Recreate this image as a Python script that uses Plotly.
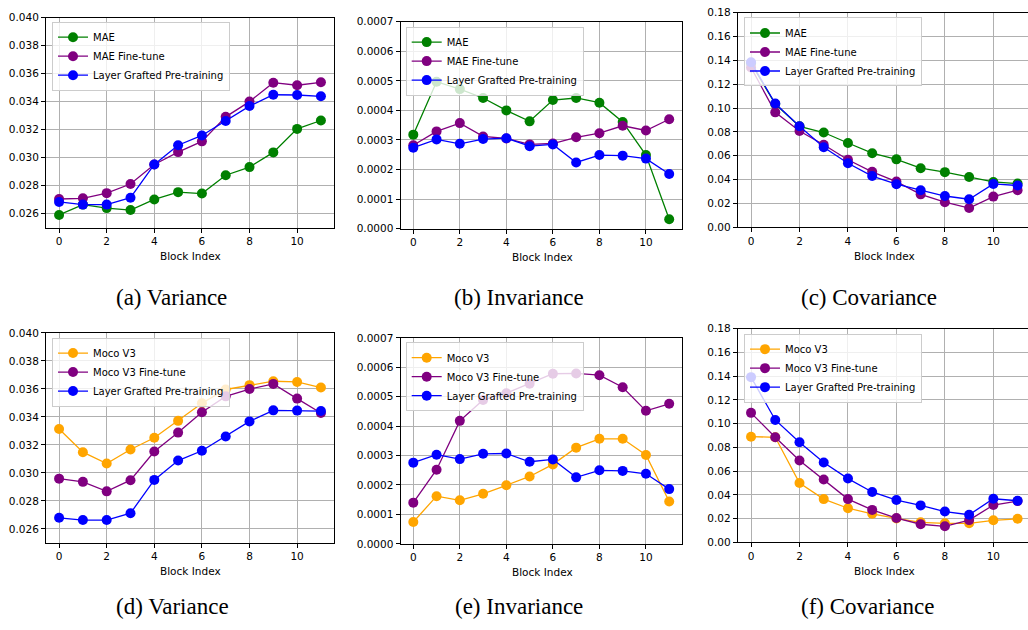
import plotly.graph_objects as go

blocks = list(range(12))

# (a) Variance - MAE row
var_mae = [0.02591, 0.02665, 0.02640, 0.02626, 0.02702, 0.02754, 0.02744, 0.02875, 0.02933, 0.03038, 0.03206, 0.03266]
var_mae_ft = [0.02705, 0.02710, 0.02747, 0.02812, 0.02952, 0.03040, 0.03117, 0.03292, 0.03401, 0.03536, 0.03518, 0.03539]
var_lg = [0.02684, 0.02665, 0.02665, 0.02714, 0.02952, 0.03089, 0.03159, 0.03262, 0.03369, 0.03450, 0.03448, 0.03439]

# (b) Invariance - MAE row
inv_mae = [0.000318, 0.000497, 0.000472, 0.000442, 0.000400, 0.000363, 0.000435, 0.000442, 0.000426, 0.000361, 0.000249, 0.000032]
inv_mae_ft = [0.000282, 0.000329, 0.000357, 0.000312, 0.000305, 0.000285, 0.000288, 0.000309, 0.000323, 0.000348, 0.000332, 0.000370]
inv_lg = [0.000274, 0.000302, 0.000287, 0.000303, 0.000306, 0.000279, 0.000285, 0.000224, 0.000249, 0.000247, 0.000237, 0.000185]

# (c) Covariance - MAE row
cov_mae = [0.1375, 0.1033, 0.0847, 0.0795, 0.0707, 0.0622, 0.0570, 0.0496, 0.0463, 0.0422, 0.0381, 0.0367]
cov_mae_ft = [0.1340, 0.0964, 0.0808, 0.0693, 0.0567, 0.0466, 0.0384, 0.0277, 0.0211, 0.0162, 0.0258, 0.0312]
cov_lg = [0.1384, 0.1038, 0.0847, 0.0671, 0.0537, 0.0430, 0.0362, 0.0312, 0.0263, 0.0236, 0.0364, 0.0351]

# (d) Variance - MoCo row
var_moco = [0.03314, 0.03148, 0.03067, 0.03167, 0.03251, 0.03372, 0.03498, 0.03596, 0.03627, 0.03655, 0.03650, 0.03610]
var_moco_ft = [0.02959, 0.02936, 0.02868, 0.02948, 0.03153, 0.03288, 0.03433, 0.03547, 0.03599, 0.03636, 0.03531, 0.03428]
var_lg2 = [0.02679, 0.02663, 0.02663, 0.02712, 0.02950, 0.03088, 0.03158, 0.03260, 0.03368, 0.03447, 0.03445, 0.03442]

# (e) Invariance - MoCo row
inv_moco = [0.0000744, 0.000162, 0.000148, 0.000170, 0.000199, 0.000229, 0.000270, 0.000327, 0.000357, 0.000357, 0.000302, 0.000144]
inv_moco_ft = [0.000140, 0.000252, 0.000418, 0.000489, 0.000512, 0.000544, 0.000578, 0.000579, 0.000573, 0.000532, 0.000452, 0.000476]
inv_lg2 = [0.000276, 0.000303, 0.000288, 0.000306, 0.000307, 0.000279, 0.000287, 0.000226, 0.000250, 0.000248, 0.000238, 0.000186]

# (f) Covariance - MoCo row
cov_moco = [0.0890, 0.0885, 0.0499, 0.0364, 0.0287, 0.0240, 0.0201, 0.0168, 0.0160, 0.0160, 0.0185, 0.0198]
cov_moco_ft = [0.1091, 0.0885, 0.0689, 0.0529, 0.0364, 0.0273, 0.0204, 0.0152, 0.0135, 0.0187, 0.0314, 0.0347]
cov_lg2 = [0.1392, 0.1031, 0.0843, 0.0672, 0.0537, 0.0424, 0.0356, 0.0311, 0.0259, 0.0232, 0.0367, 0.0350]

captions = ["(a) Variance", "(b) Invariance", "(c) Covariance",
            "(d) Variance", "(e) Invariance", "(f) Covariance"]
names_top = ["MAE", "MAE Fine-tune", "Layer Grafted Pre-training"]
names_bot = ["Moco V3", "Moco V3 Fine-tune", "Layer Grafted Pre-training"]
colors_top = ["green", "purple", "blue"]
colors_bot = ["orange", "purple", "blue"]

W, H = 1028, 630

def fx(p):
    return min(max(p / W, 0), 1)

def fy(p):
    return min(max(1 - p / H, 0), 1)

panels = [
    ([var_mae, var_mae_ft, var_lg], names_top, colors_top, (46, 334, 12, 226), [0.025, 0.040], 0.002, ".3f", (52, 16), (171, 297), 11.55, 190),
    ([inv_mae, inv_mae_ft, inv_lg], names_top, colors_top, (400.5, 682, 16, 227), [0, 0.0007], 0.0001, ".4f", (405.7, 21), (519, 297), 11.55, 542),
    ([cov_mae, cov_mae_ft, cov_lg], names_top, colors_top, (737.7, 1028, 6.7, 225.7), [0, 0.18], 0.02, ".2f", (744, 11.7), (869, 297), 11.43, 884),
    ([var_moco, var_moco_ft, var_lg2], names_bot, colors_bot, (46, 334, 333.3, 547.3), [0.025, 0.040], 0.002, ".3f", (52, 338), (172, 612), 11.55, 190),
    ([inv_moco, inv_moco_ft, inv_lg2], names_bot, colors_bot, (400.5, 682, 338.3, 548.3), [0, 0.0007], 0.0001, ".4f", (405.7, 342.7), (519, 612), 11.55, 542),
    ([cov_moco, cov_moco_ft, cov_lg2], names_bot, colors_bot, (737.7, 1028, 329, 546.7), [0, 0.18], 0.02, ".2f", (744, 334), (867, 612), 11.43, 884),
]

fig = go.Figure()
layout = dict(width=W, height=H, margin=dict(l=0, r=0, t=0, b=0),
              paper_bgcolor="white", plot_bgcolor="white", showlegend=True,
              font=dict(family="DejaVu Sans", size=10, color="black"))
annotations = []

for i, (series, names, colors, box, yr, dt, fmt, lpos, cap, xmax, titlex) in enumerate(panels):
    k = i + 1
    xa = "x" if k == 1 else f"x{k}"
    ya = "y" if k == 1 else f"y{k}"
    leg = "legend" if k == 1 else f"legend{k}"
    for s, n, c in zip(series, names, colors):
        fig.add_trace(go.Scatter(x=blocks, y=s, name=n, mode="lines+markers",
                                 line=dict(color=c, width=1.3),
                                 marker=dict(color=c, size=10),
                                 xaxis=xa, yaxis=ya, legend=leg))
    l, r, t, b = box
    xkey = "xaxis" if k == 1 else f"xaxis{k}"
    ykey = "yaxis" if k == 1 else f"yaxis{k}"
    full = xmax > 11.5
    layout[xkey] = dict(domain=[fx(l), fx(r)], anchor=ya, range=[-0.55, xmax],
                        tickmode="linear", tick0=0, dtick=2,
                        showgrid=True, gridcolor="#b0b0b0", gridwidth=0.8,
                        zeroline=False, showline=True, linecolor="black", linewidth=1,
                        mirror=True, ticks="outside", ticklen=4, tickcolor="black",
                        tickfont=dict(size=10.5, color="black"))
    layout[ykey] = dict(domain=[fy(b), fy(t)], anchor=xa, range=yr,
                        tickmode="linear", tick0=0, dtick=dt, tickformat=fmt,
                        showgrid=True, gridcolor="#b0b0b0", gridwidth=0.8,
                        zeroline=False, showline=True, linecolor="black", linewidth=1,
                        mirror=full, ticks="outside", ticklen=4, tickcolor="black",
                        ticklabeloverflow="allow",
                        tickfont=dict(size=10.5, color="black"))
    layout[leg] = dict(x=fx(lpos[0]), y=fy(lpos[1]), xanchor="left", yanchor="top",
                       bgcolor="rgba(255,255,255,0.8)", bordercolor="#cccccc", borderwidth=1,
                       font=dict(size=10, color="black"))
    annotations.append(dict(text="Block Index", x=fx(titlex), y=fy(b + 29),
                            xref="paper", yref="paper", showarrow=False,
                            font=dict(size=10.5, color="black"),
                            xanchor="center", yanchor="middle"))
    annotations.append(dict(text=captions[i], x=fx(cap[0]), y=fy(cap[1]),
                            xref="paper", yref="paper", showarrow=False,
                            font=dict(family="Liberation Serif", size=23, color="black"),
                            xanchor="center", yanchor="middle"))

layout["annotations"] = annotations
fig.update_layout(**layout)
fig.write_html("out.html", config={"displayModeBar": False},
               post_script="document.body.style.margin='0px';")
